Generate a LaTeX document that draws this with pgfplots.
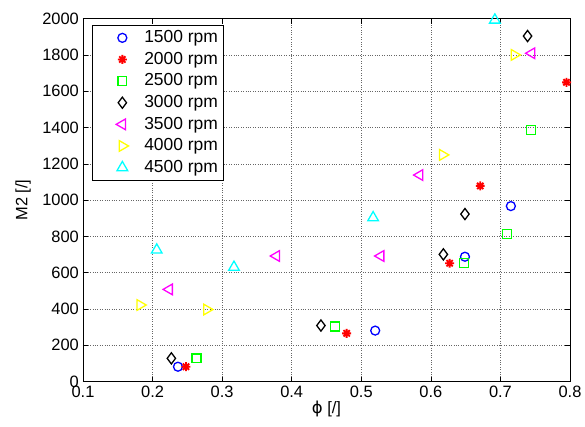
\documentclass[border=0pt]{standalone}
\usepackage{pgfplots}
\pgfplotsset{compat=1.18}
\usepackage{fontspec}
\setmainfont{Liberation Sans}
\newfontfamily\symfont{DejaVu Sans}

\definecolor{mblue}{rgb}{0,0,1}
\definecolor{mred}{rgb}{1,0,0}
\definecolor{mgreen}{rgb}{0,1,0}
\definecolor{mmagenta}{rgb}{1,0,1}
\definecolor{myellow}{rgb}{1,1,0}
\definecolor{mcyan}{rgb}{0,1,1}

% MATLAB-style '*' marker: a plus and a cross
\pgfdeclareplotmark{mstar}{%
  \pgfpathmoveto{\pgfqpoint{-\pgfplotmarksize}{0pt}}\pgfpathlineto{\pgfqpoint{\pgfplotmarksize}{0pt}}%
  \pgfpathmoveto{\pgfqpoint{0pt}{-\pgfplotmarksize}}\pgfpathlineto{\pgfqpoint{0pt}{\pgfplotmarksize}}%
  \pgfpathmoveto{\pgfqpoint{-.7\pgfplotmarksize}{-.7\pgfplotmarksize}}\pgfpathlineto{\pgfqpoint{.7\pgfplotmarksize}{.7\pgfplotmarksize}}%
  \pgfpathmoveto{\pgfqpoint{-.7\pgfplotmarksize}{.7\pgfplotmarksize}}\pgfpathlineto{\pgfqpoint{.7\pgfplotmarksize}{-.7\pgfplotmarksize}}%
  \pgfusepathqstroke}

\begin{document}
\fontsize{16.5}{19}\selectfont
\begin{tikzpicture}
\begin{axis}[
    at={(0,0)}, anchor=south west,
    scale only axis, width=487bp, height=363bp,
    xmin=0.1, xmax=0.8, ymin=0, ymax=2000,
    xtick={0.1,0.2,0.3,0.4,0.5,0.6,0.7,0.8},
    ytick={0,200,400,600,800,1000,1200,1400,1600,1800,2000},
    /pgf/number format/assume math mode=true,
    /pgf/number format/1000 sep={},
    xticklabel style={/pgf/number format/fixed, /pgf/number format/precision=1},
    grid=major,
    major grid style={black!60, dotted, line width=0.5pt},
    tick align=inside,
    major tick length=5bp,
    every tick/.style={black, line width=0.5pt},
    axis line style={black, line width=0.9pt},
    ticklabel style={font=\fontsize{16.5}{19}\selectfont},
    yticklabel style={xshift=1.5bp},
    xticklabel style={yshift=1bp},
    xlabel={{\symfont ϕ} [/]},
    ylabel={M2 [/]},
    label style={font=\fontsize{16.5}{19}\selectfont},
    xlabel style={at={(axis description cs:0.5,-0.075)}, anchor=center},
    ylabel style={at={(axis description cs:-0.1232,0.5)}, anchor=center},
    legend cell align=left,
    legend image code/.code={\path (0bp,0bp) (45bp,0bp);
        \draw[#1] plot coordinates {(26bp,0bp)};},
    legend style={at={(rel axis cs:0.0185,0.982)}, anchor=north west,
        draw=black, line width=0.8pt, fill=white,
        font=\fontsize{17.5}{20}\selectfont, row sep=3bp,
        inner xsep=3bp, inner ysep=3bp},
    every axis plot/.append style={only marks, line width=1.3pt},
]
\addplot[mblue, mark=o, mark size=4.5] coordinates {
(0.2365,82)(0.520,281)(0.649,688)(0.715,967)
};
\addlegendentry{1500 rpm}
\addplot[mred, mark=mstar, mark size=4.5, line width=1.9pt] coordinates {
(0.248,82)(0.479,266)(0.627,652)(0.671,1078)(0.795,1649)
};
\addlegendentry{2000 rpm}
\addplot[mgreen, mark=square, mark size=4.5] coordinates {
(0.263,128)(0.462,303)(0.648,655)(0.709,813)(0.744,1386)
};
\addlegendentry{2500 rpm}
\addplot[black, mark=diamond, mark size=5.6] coordinates {
(0.227,128)(0.442,309)(0.618,701)(0.649,923)(0.739,1904)
};
\addlegendentry{3000 rpm}
\addplot[mmagenta, mark=triangle, mark size=6.2, mark options={rotate=90}] coordinates {
(0.224,508)(0.378,692)(0.528,692)(0.584,1138)(0.745,1809)
};
\addlegendentry{3500 rpm}
\addplot[myellow, mark=triangle, mark size=6.2, mark options={rotate=-90}] coordinates {
(0.182,422)(0.278,397)(0.617,1249)(0.720,1800)
};
\addlegendentry{4000 rpm}
\addplot[mcyan, mark=triangle, mark size=6.2] coordinates {
(0.206,725)(0.317,630)(0.517,903)(0.692,1992)
};
\addlegendentry{4500 rpm}
\end{axis}
\pgfresetboundingbox
\path[use as bounding box] (-83bp,-45.4bp) rectangle (502bp,381.6bp);
\end{tikzpicture}
\end{document}
